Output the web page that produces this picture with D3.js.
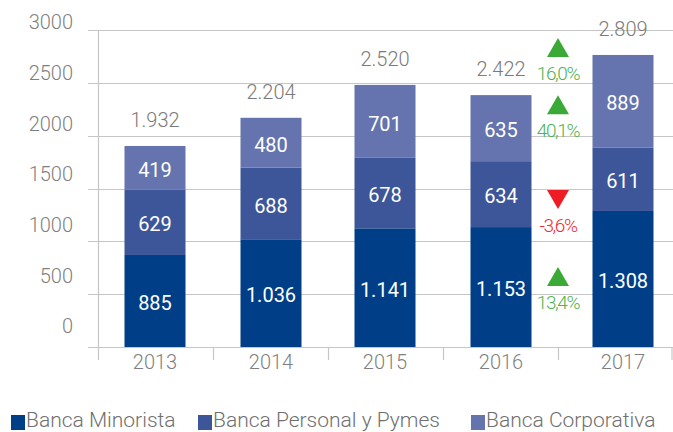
<!DOCTYPE html>
<html><head><meta charset="utf-8">
<script src="https://cdn.jsdelivr.net/npm/d3@7"></script>
<style>
html,body{margin:0;padding:0;background:#fff;overflow:hidden;}
svg{display:block;font-family:Roboto,"Noto Sans",sans-serif;}
</style></head>
<body><svg id="c" width="673" height="432"></svg>
<script>
const years = ["2013","2014","2015","2016","2017"];
const minorista = [885, 1036, 1141, 1153, 1308];
const personal  = [629, 688, 678, 634, 611];
const corporativa = [419, 480, 701, 635, 889];
const totals = [1932, 2204, 2520, 2422, 2809];
const yTicks = [0, 500, 1000, 1500, 2000, 2500, 3000];
const seriesNames = ["Banca Minorista", "Banca Personal y Pymes", "Banca Corporativa"];
const changeLabels = ["16,0%", "40,1%", "-3,6%", "13,4%"];
const changeUp = [true, true, false, true];
const changeLevels = [2970, 2420, 1510, 770];

const colors = ["#003f87", "#3d569a", "#6574ae"];
const fmt = v => d3.format(",")(v).replace(/,/g, ".");

const svg = d3.select("#c");
const y = d3.scaleLinear().domain([0, 3000]).range([347, 35]);      // bars
const yGrid = d3.scaleLinear().domain([0, 3000]).range([347, 30]);  // gridlines
const yLab = d3.scaleLinear().domain([0, 3000]).range([326, 22]);   // tick labels
const band = d3.scaleBand().domain(years).range([98, 673]);
const xc = d3.scaleOrdinal().domain(years).range([155, 271, 385, 501, 623]);
const barW = 61;

// gridlines
svg.append("g").selectAll("line").data(yTicks).join("line")
  .attr("x1", 88).attr("x2", 673)
  .attr("y1", d => Math.round(yGrid(d)) + 0.5).attr("y2", d => Math.round(yGrid(d)) + 0.5)
  .attr("stroke", "#c6c6c6").attr("stroke-width", 1.2);

// y axis line
svg.append("line").attr("x1", 98.5).attr("x2", 98.5).attr("y1", 30).attr("y2", 360)
  .attr("stroke", "#c6c6c6").attr("stroke-width", 1.2);
// category ticks
const bounds = years.map(d => band(d)).concat([band.range()[1] - 1.5]).slice(1);
svg.append("g").selectAll("line").data(bounds).join("line")
  .attr("x1", d => d + 0.5).attr("x2", d => d + 0.5).attr("y1", 347).attr("y2", 360)
  .attr("stroke", "#c6c6c6").attr("stroke-width", 1.2);

// y labels
svg.append("g").selectAll("text").data(yTicks).join("text")
  .attr("x", 73).attr("y", d => yLab(d)).attr("dy", "0.36em")
  .attr("text-anchor", "end").attr("font-size", 20).attr("font-weight", 300)
  .attr("fill", "#7f7f7f").text(d => d);

// stacked
const rows = years.map((yr, i) => ({year: yr, m: minorista[i], p: personal[i], c: corporativa[i]}));
const stack = d3.stack().keys(["m", "p", "c"])(rows);
const gBars = svg.append("g");
stack.forEach((layer, li) => {
  gBars.append("g").selectAll("rect").data(layer).join("rect")
    .attr("x", d => xc(d.data.year) - barW / 2)
    .attr("width", barW)
    .attr("y", d => y(d[1]))
    .attr("height", d => y(d[0]) - y(d[1]))
    .attr("fill", colors[li]);
  gBars.append("g").selectAll("text").data(layer).join("text")
    .attr("x", d => xc(d.data.year))
    .attr("y", d => (y(d[0]) + y(d[1])) / 2 + 2)
    .attr("dy", "0.36em").attr("text-anchor", "middle")
    .attr("font-size", 20).attr("fill", "#fff")
    .text(d => fmt(d[1] - d[0]));
});

// totals
svg.append("g").selectAll("text").data(years).join("text")
  .attr("x", d => xc(d)).attr("y", (d, i) => y(totals[i]) - 26)
  .attr("dy", "0.36em").attr("text-anchor", "middle")
  .attr("font-size", 20).attr("font-weight", 300).attr("fill", "#7a7a7a")
  .text((d, i) => fmt(totals[i]));

// category labels
svg.append("g").selectAll("text").data(years).join("text")
  .attr("x", d => xc(d)).attr("y", 362).attr("dy", "0.36em")
  .attr("text-anchor", "middle").attr("font-size", 20).attr("font-weight", 300)
  .attr("fill", "#7f7f7f").text(d => d);

// change annotations
const ax = 558;
const ann = svg.append("g");
changeLabels.forEach((lab, i) => {
  const ty = y(changeLevels[i]);
  const up = changeUp[i];
  const tcol = up ? "#3aa935" : "#ee1c25";
  const txtCol = up ? "#4fb34f" : "#ee2a30";
  const pts = up
    ? [[ax - 11, ty + 19], [ax + 11, ty + 19], [ax, ty]]
    : [[ax - 11, ty], [ax + 11, ty], [ax, ty + 19]];
  ann.append("path").attr("d", d3.line()(pts) + "Z").attr("fill", tcol);
  ann.append("text").attr("x", ax).attr("y", ty + 35).attr("dy", "0.36em")
    .attr("text-anchor", "middle").attr("font-size", 19).attr("font-weight", 300)
    .attr("letter-spacing", -1.4).attr("fill", txtCol).text(lab);
});

// legend
const legX = [11, 198, 471];
const leg = svg.append("g");
seriesNames.forEach((n, i) => {
  leg.append("rect").attr("x", legX[i]).attr("y", 415).attr("width", 14).attr("height", 15).attr("fill", colors[i]);
  leg.append("text").attr("x", legX[i] + 15).attr("y", 427)
    .attr("font-size", 21).attr("font-weight", 300).attr("fill", "#6f6f6f")
    .text(n);
});
</script></body></html>
